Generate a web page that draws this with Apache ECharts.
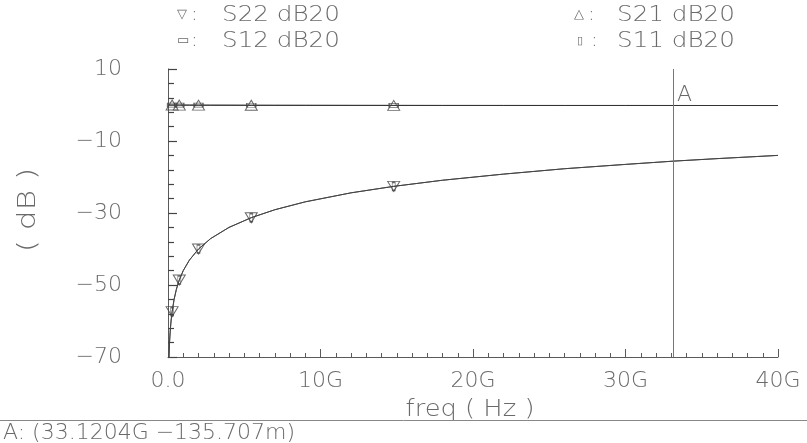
<!DOCTYPE html>
<html>
<head>
<meta charset="utf-8">
<script src="https://cdn.jsdelivr.net/npm/echarts@6/dist/echarts.min.js"></script>
<style>
html,body{margin:0;padding:0;background:#fff;}
#main{width:807px;height:443px;}
</style>
</head>
<body>
<div id="main"></div>
<script>
// ---- data ----
var freqGHz = [0.05, 0.1, 0.15, 0.2, 0.27, 0.4, 0.55, 0.74, 1, 1.4, 2, 2.8, 4, 5.46, 7, 9, 12, 14.8, 18, 22, 26, 30, 33.12, 36, 40];
var s22dB = [-72, -66, -62.5, -60, -57.4, -54, -51.2, -48.6, -46, -43.1, -40, -37.1, -34, -31.3, -29.1, -26.9, -24.4, -22.6, -20.9, -19.2, -17.7, -16.5, -15.6, -14.9, -14];
var s11dB = [-72, -66, -62.5, -60, -57.4, -54, -51.2, -48.6, -46, -43.1, -40, -37.1, -34, -31.3, -29.1, -26.9, -24.4, -22.6, -20.9, -19.2, -17.7, -16.5, -15.6, -14.9, -14];
var s21dB = [-0.005, -0.01, -0.012, -0.014, -0.017, -0.02, -0.024, -0.028, -0.032, -0.038, -0.045, -0.053, -0.064, -0.075, -0.085, -0.095, -0.106, -0.115, -0.122, -0.128, -0.131, -0.134, -0.136, -0.14, -0.145];
var s12dB = [-0.005, -0.01, -0.012, -0.014, -0.017, -0.02, -0.024, -0.028, -0.032, -0.038, -0.045, -0.053, -0.064, -0.075, -0.085, -0.095, -0.106, -0.115, -0.122, -0.128, -0.131, -0.134, -0.136, -0.14, -0.145];
var markerIdx = [4, 7, 10, 13, 17];
var seriesNames = ['S22 dB20', 'S21 dB20', 'S12 dB20', 'S11 dB20'];
var xTickLabels = ['0.0', '10G', '20G', '30G', '40G'];
var yTickLabels = ['-70', '-50', '-30', '-10', '10'];
var markerAFreq = 33.1204;
var markerAText = 'A: (33.1204G \u2212135.707m)';
var xAxisTitle = 'freq ( Hz )';
var yAxisTitle = '( dB )';

// ---- chart ----
var FONT = 'DejaVu Sans';
var TXT = '#6a6a6a';
var AX = '#5a5a5a';

function pairs(xs, ys) { return xs.map(function (x, i) { return [x, ys[i]]; }); }
function markPts(xs, ys) { return markerIdx.map(function (i) { return [xs[i], ys[i]]; }); }

var chart = echarts.init(document.getElementById('main'), null, {renderer: 'canvas'});

var option = {
  animation: false,
  backgroundColor: '#fff',
  grid: {left: 168, right: 29, top: 69, bottom: 86},
  xAxis: {
    type: 'value', min: 0, max: 40, interval: 10,
    axisLine: {show: true, onZero: false, lineStyle: {color: AX, width: 1}},
    axisTick: {show: true, inside: true, length: 8, lineStyle: {color: AX}},
    minorTick: {show: true, splitNumber: 10, length: 4, lineStyle: {color: AX}},
    splitLine: {show: false},
    axisLabel: {
      margin: 13, fontSize: 22, fontFamily: FONT, fontWeight: 200, color: TXT,
      formatter: function (v) { return xTickLabels[Math.round(v / 10)]; }
    }
  },
  yAxis: {
    type: 'value', min: -70, max: 10, interval: 20,
    axisLine: {show: true, onZero: false, lineStyle: {color: AX, width: 1}},
    axisTick: {show: true, inside: true, length: 9, lineStyle: {color: '#444', width: 1.2}},
    minorTick: {show: true, splitNumber: 5, length: 6, lineStyle: {color: '#444', width: 1.2}},
    splitLine: {show: false},
    axisLabel: {
      margin: 46, fontSize: 22, fontFamily: FONT, fontWeight: 200, color: TXT,
      padding: [0, 0, 10, 0],
      formatter: function (v) {
        var i = Math.round((v + 70) / 20);
        return (yTickLabels[i] || '').replace('-', '\u2212');
      }
    }
  },
  series: [
    {name: seriesNames[0], type: 'line', data: pairs(freqGHz, s22dB), showSymbol: false,
     lineStyle: {color: '#444', width: 1}, z: 3},
    {name: seriesNames[3], type: 'line', data: pairs(freqGHz, s11dB), showSymbol: false,
     lineStyle: {color: '#555', width: 1}, z: 2},
    {name: seriesNames[1], type: 'line', data: pairs(freqGHz, s21dB), showSymbol: false,
     lineStyle: {color: '#333', width: 1}, z: 3,
     markLine: {silent: true, symbol: 'none', label: {show: false},
       lineStyle: {color: '#777', width: 1, type: 'solid'},
       data: [{xAxis: markerAFreq}]}},
    {name: seriesNames[2], type: 'line', data: pairs(freqGHz, s12dB), showSymbol: false,
     lineStyle: {color: '#444', width: 1}, z: 2},
    // markers
    {type: 'scatter', data: markPts(freqGHz, s22dB), symbol: 'triangle', symbolRotate: 180, symbolSize: [12, 10],
     itemStyle: {color: 'rgba(255,255,255,0)', borderColor: '#444', borderWidth: 1}, z: 5},
    {type: 'scatter', data: markPts(freqGHz, s11dB), symbol: 'rect', symbolSize: [3, 8],
     itemStyle: {color: 'rgba(255,255,255,0)', borderColor: '#444', borderWidth: 1}, z: 5},
    {type: 'scatter', data: markPts(freqGHz, s21dB), symbol: 'triangle', symbolSize: [12, 10],
     itemStyle: {color: 'rgba(255,255,255,0)', borderColor: '#444', borderWidth: 1}, z: 5},
    {type: 'scatter', data: markPts(freqGHz, s12dB), symbol: 'rect', symbolSize: [9, 4],
     itemStyle: {color: 'rgba(255,255,255,0)', borderColor: '#444', borderWidth: 1}, z: 5}
  ]
};
chart.setOption(option);

// ---- text overlays ----
var aPx = chart.convertToPixel({gridIndex: 0}, [markerAFreq, 10]);
function txt(x, y, s, size, extra) {
  var st = {text: s, x: x, y: y, fill: TXT, font: '200 ' + size + 'px "' + FONT + '"', verticalAlign: 'middle', align: 'left'};
  if (extra) for (var k in extra) st[k] = extra[k];
  return {type: 'text', style: st, z: 10};
}
var legendRows = [
  {sym: '\u25BD', x: 177, tx: 222, y: 15, name: seriesNames[0], size: 13},
  {sym: '\u25AD', x: 177, tx: 222, y: 41, name: seriesNames[2], size: 13},
  {sym: '\u25B3', x: 574, tx: 617, y: 15, name: seriesNames[1], size: 13},
  {sym: '\u25AF', x: 577, tx: 617, y: 41, name: seriesNames[3], size: 11}
];
var g = [];
legendRows.forEach(function (r) {
  g.push(txt(r.x, r.y, r.sym, r.size));
  g.push(txt(r.x + 14, r.y, ':', 20));
  g.push({type: 'text', x: r.tx, y: r.y, scaleX: 1.12,
    style: {text: r.name, x: 0, y: 0, fill: TXT, font: '200 22px "' + FONT + '"', verticalAlign: 'middle'}, z: 10});
});
g.push(txt(aPx[0] + 4, 95, 'A', 22));
g.push({type: 'text', x: 28, y: 210, rotation: Math.PI / 2, scaleX: 1.25,
  style: {text: yAxisTitle, x: 0, y: 0, fill: TXT, font: '200 25px "' + FONT + '"', align: 'center', verticalAlign: 'middle'}, z: 10});
g.push({type: 'text', x: 470, y: 410, scaleX: 1.12,
  style: {text: xAxisTitle, x: 0, y: 0, fill: TXT, font: '200 23px "' + FONT + '"', align: 'center', verticalAlign: 'middle'}, z: 10});
g.push({type: 'line', shape: {x1: 0, y1: 420.5, x2: 807, y2: 420.5}, style: {stroke: '#888', lineWidth: 1}, z: 10});
g.push(txt(3, 433, markerAText, 22));
chart.setOption({graphic: g});
</script>
</body>
</html>
